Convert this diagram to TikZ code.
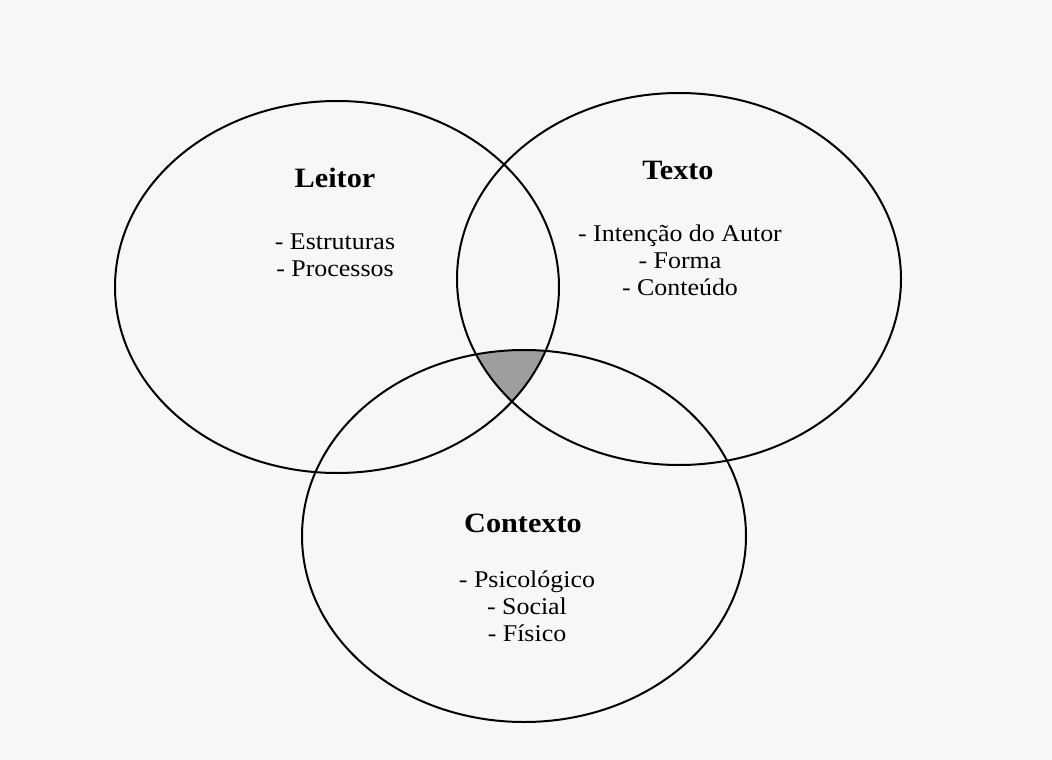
\documentclass[tikz,border=0pt]{standalone}
\usepackage{fontspec}
\setmainfont[FakeStretch=1.08]{Liberation Serif}
\usetikzlibrary{shapes.geometric}
\tikzstyle{set}=[draw, ellipse, line width=2pt, minimum width=444pt, minimum height=372pt, inner sep=0pt]
\tikzstyle{settitle}=[font=\fontsize{28}{30}\selectfont\bfseries]
\tikzstyle{setitems}=[font=\fontsize{24}{27}\selectfont, align=center]
\tikzstyle{core}=[fill=black!38]

\begin{document}
\begin{tikzpicture}[x=1pt, y=-1pt]
        \fill[black!3] (0,0) rectangle (1052,760);
        \coordinate (Lc) at (337, 287);
        \coordinate (Tc) at (679, 279);
        \coordinate (Cc) at (524, 536);
        \begin{scope}
            \clip (Lc) ellipse [x radius=222pt, y radius=186pt];
            \clip (Tc) ellipse [x radius=222pt, y radius=186pt];
            \path[core] (Cc) ellipse [x radius=222pt, y radius=186pt];
        \end{scope}
        \node[set] (leitor) at (Lc) {};
        \node[set] (texto) at (Tc) {};
        \node[set] (contexto) at (Cc) {};
        \node[settitle] (leitorT) at (335, 178) {Leitor};
        \node[settitle] (textoT) at (678, 170) {Texto};
        \node[settitle] (contextoT) at (523, 523) {Contexto};
        \node[setitems] (leitorI) at (335, 255) {- Estruturas\\- Processos};
        \node[setitems] (textoI) at (680, 260) {- Intenção do Autor\\- Forma\\- Conteúdo};
        \node[setitems] (contextoI) at (527, 606) {- Psicológico\\- Social\\- Físico};
    \end{tikzpicture}
\end{document}
